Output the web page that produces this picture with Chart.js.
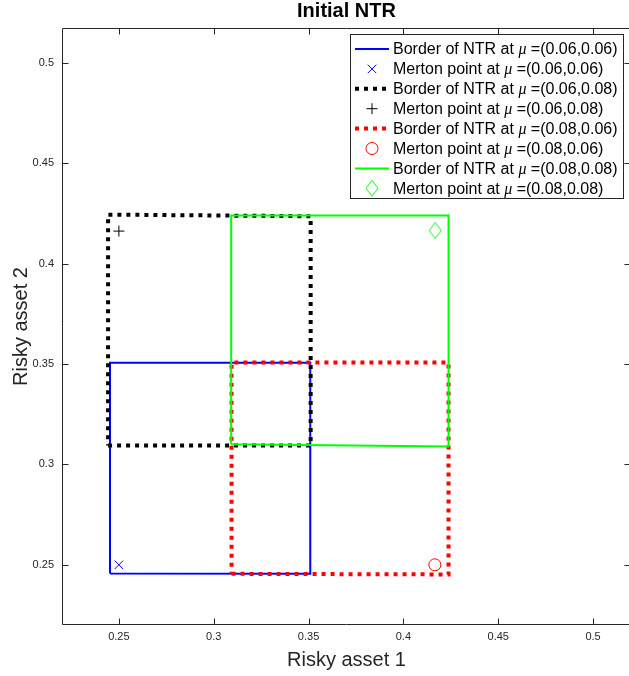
<!DOCTYPE html>
<html>
<head>
<meta charset="utf-8">
<title>Initial NTR</title>
<script src="https://cdn.jsdelivr.net/npm/chart.js@4.4.1/dist/chart.umd.min.js"></script>
<style>
    html, body { margin: 0; padding: 0; overflow: hidden; background: #fff; }
    #wrap { width: 640px; height: 676px; }
</style>
</head>
<body>
<div id="wrap"><canvas id="ntrChart" width="640" height="676"></canvas></div>
<script>
// NTR borders (closed polygons)
const ntr1X = [0.2453, 0.3509, 0.3509, 0.2453, 0.2453];
const ntr1Y = [0.2457, 0.2455, 0.3507, 0.3507, 0.2457];
const ntr2X = [0.2443, 0.3511, 0.3511, 0.2443, 0.2443];
const ntr2Y = [0.3095, 0.3095, 0.4237, 0.4245, 0.3095];
const ntr3X = [0.3094, 0.4238, 0.4238, 0.3094, 0.3094];
const ntr3Y = [0.2455, 0.2452, 0.3508, 0.3508, 0.2455];
const ntr4X = [0.3092, 0.4238, 0.4238, 0.3092, 0.3092];
const ntr4Y = [0.3101, 0.3090, 0.4241, 0.4241, 0.3101];

// Merton points, one per drift pair
const mertonX = [0.25, 0.25, 0.4166, 0.4168];
const mertonY = [0.25, 0.4163, 0.25, 0.4166];

const muLabels = ['(0.06,0.06)', '(0.06,0.08)', '(0.08,0.06)', '(0.08,0.08)'];
const xTicks = [0.25, 0.3, 0.35, 0.4, 0.45, 0.5];
const yTicks = [0.25, 0.3, 0.35, 0.4, 0.45, 0.5];

const FONT = "'Liberation Sans', Arial, Helvetica, sans-serif";
const AXIS_COLOR = '#262626';

function toPoints(xs, ys) {
    return xs.map((x, i) => ({ x: x, y: ys[i] }));
}

// MATLAB style diamond is taller than wide, so draw it on a little canvas
function diamondMarker(color) {
    const c = document.createElement('canvas');
    c.width = 14;
    c.height = 18;
    const g = c.getContext('2d');
    g.strokeStyle = color;
    g.lineWidth = 1;
    g.beginPath();
    g.moveTo(7, 1);
    g.lineTo(13, 9);
    g.lineTo(7, 17);
    g.lineTo(1, 9);
    g.closePath();
    g.stroke();
    return c;
}

const borders = [[ntr1X, ntr1Y], [ntr2X, ntr2Y], [ntr3X, ntr3Y], [ntr4X, ntr4Y]];
const looks = [
    { color: '#0000ff', width: 2, dash: [], marker: 'crossRot', radius: 6 },
    { color: '#000000', width: 4, dash: [4, 5], marker: 'cross', radius: 5.5 },
    { color: '#ff0000', width: 4, dash: [4, 5], marker: 'circle', radius: 6 },
    { color: '#00ff00', width: 2, dash: [], marker: diamondMarker('#00ff00'), radius: 8 }
];

const datasets = [];
borders.forEach((b, i) => {
    const lk = looks[i];
    datasets.push({
        label: 'Border of NTR at μ =' + muLabels[i],
        data: toPoints(b[0], b[1]),
        showLine: true,
        fill: false,
        tension: 0,
        borderColor: lk.color,
        borderWidth: lk.width,
        borderDash: lk.dash,
        borderCapStyle: 'butt',
        borderJoinStyle: 'miter',
        pointRadius: 0,
        pointHoverRadius: 0
    });
    datasets.push({
        label: 'Merton point at μ =' + muLabels[i],
        data: [{ x: mertonX[i], y: mertonY[i] }],
        showLine: false,
        pointStyle: lk.marker,
        pointRadius: lk.radius,
        pointHoverRadius: lk.radius,
        pointBorderWidth: 1,
        pointBorderColor: lk.color,
        pointBackgroundColor: 'rgba(0,0,0,0)'
    });
});
// MATLAB draws later series on top
datasets.forEach((ds, k) => { ds.order = datasets.length - k; });

// box, inward ticks, title and legend
const matlabFrame = {
    id: 'matlabFrame',
    afterDraw(chart) {
        const ctx = chart.ctx;
        const a = chart.chartArea;
        const xs = chart.scales.x;
        const ys = chart.scales.y;
        const L = Math.round(a.left) + 0.5, R = Math.round(a.right) - 0.5;
        const T = Math.round(a.top) + 0.5, B = Math.round(a.bottom) - 0.5;

        ctx.save();
        ctx.strokeStyle = AXIS_COLOR;
        ctx.lineWidth = 1;
        ctx.setLineDash([]);
        ctx.beginPath();
        ctx.rect(L, T, R - L, B - T);
        xTicks.forEach(v => {
            const px = Math.round(xs.getPixelForValue(v)) + 0.5;
            ctx.moveTo(px, B); ctx.lineTo(px, B - 6);
            ctx.moveTo(px, T); ctx.lineTo(px, T + 6);
        });
        yTicks.forEach(v => {
            const py = Math.round(ys.getPixelForValue(v)) + 0.5;
            ctx.moveTo(L, py); ctx.lineTo(L + 6, py);
            ctx.moveTo(R, py); ctx.lineTo(R - 6, py);
        });
        ctx.stroke();

        // title
        ctx.fillStyle = '#000';
        ctx.font = 'bold 20px ' + FONT;
        ctx.textAlign = 'center';
        ctx.textBaseline = 'alphabetic';
        ctx.fillText('Initial NTR', (a.left + a.right) / 2, 17);

        // legend
        const lg = { left: 350.5, top: 34.5, width: 273, height: 164, first: 49, rowH: 19.9 };
        ctx.fillStyle = '#fff';
        ctx.fillRect(lg.left, lg.top, lg.width, lg.height);
        ctx.strokeStyle = AXIS_COLOR;
        ctx.lineWidth = 1;
        ctx.strokeRect(lg.left, lg.top, lg.width, lg.height);

        chart.data.datasets.forEach((ds, i) => {
            const cy = lg.first + i * lg.rowH;
            if (ds.showLine) {
                ctx.strokeStyle = ds.borderColor;
                ctx.lineWidth = ds.borderWidth;
                ctx.setLineDash(ds.borderDash);
                ctx.lineCap = 'butt';
                ctx.beginPath();
                ctx.moveTo(355, cy);
                ctx.lineTo(389, cy);
                ctx.stroke();
                ctx.setLineDash([]);
            } else {
                ctx.strokeStyle = ds.pointBorderColor;
                ctx.fillStyle = 'rgba(0,0,0,0)';
                ctx.lineWidth = 1;
                Chart.helpers.drawPoint(ctx, {
                    pointStyle: ds.pointStyle,
                    radius: ds.pointRadius,
                    borderWidth: 1,
                    rotation: 0
                }, 372, cy);
            }
            const parts = ds.label.split('μ');
            let tx = 393;
            ctx.fillStyle = '#000';
            ctx.textAlign = 'left';
            ctx.textBaseline = 'middle';
            ctx.font = '16px ' + FONT;
            ctx.fillText(parts[0], tx, cy + 1);
            tx += ctx.measureText(parts[0]).width;
            ctx.font = "italic 16px 'Liberation Serif', 'Times New Roman', serif";
            ctx.fillText('μ', tx, cy + 1);
            tx += ctx.measureText('μ').width;
            ctx.font = '16px ' + FONT;
            ctx.fillText(parts[1], tx, cy + 1);
        });
        ctx.restore();
    }
};

const ctx = document.getElementById('ntrChart').getContext('2d');
new Chart(ctx, {
    type: 'scatter',
    data: { datasets: datasets },
    options: {
        responsive: false,
        animation: false,
        devicePixelRatio: 1,
        layout: { padding: { top: 28, right: 7, left: 0, bottom: 0 } },
        plugins: {
            legend: { display: false },
            tooltip: { enabled: false },
            title: { display: false }
        },
        scales: {
            x: {
                type: 'linear',
                min: 0.22,
                max: 0.52,
                afterBuildTicks: s => { s.ticks = xTicks.map(v => ({ value: v })); },
                afterFit: s => { s.height = 51; },
                grid: { display: false, drawTicks: false },
                border: { display: false },
                ticks: {
                    padding: 5,
                    color: AXIS_COLOR,
                    autoSkip: false,
                    maxRotation: 0,
                    font: { family: FONT, size: 11 },
                    callback: v => String(v)
                },
                title: {
                    display: true,
                    text: 'Risky asset 1',
                    color: AXIS_COLOR,
                    font: { family: FONT, size: 20 },
                    padding: { top: 0, bottom: 4 }
                }
            },
            y: {
                type: 'linear',
                min: 0.22,
                max: 0.5175,
                afterBuildTicks: s => { s.ticks = yTicks.map(v => ({ value: v })); },
                afterFit: s => { s.width = 62; },
                grid: { display: false, drawTicks: false },
                border: { display: false },
                ticks: {
                    padding: 8,
                    color: AXIS_COLOR,
                    autoSkip: false,
                    font: { family: FONT, size: 11 },
                    callback: v => String(v)
                },
                title: {
                    display: true,
                    text: 'Risky asset 2',
                    color: AXIS_COLOR,
                    font: { family: FONT, size: 20 },
                    padding: { top: 9, bottom: 0 }
                }
            }
        }
    },
    plugins: [matlabFrame]
});
</script>
</body>
</html>
